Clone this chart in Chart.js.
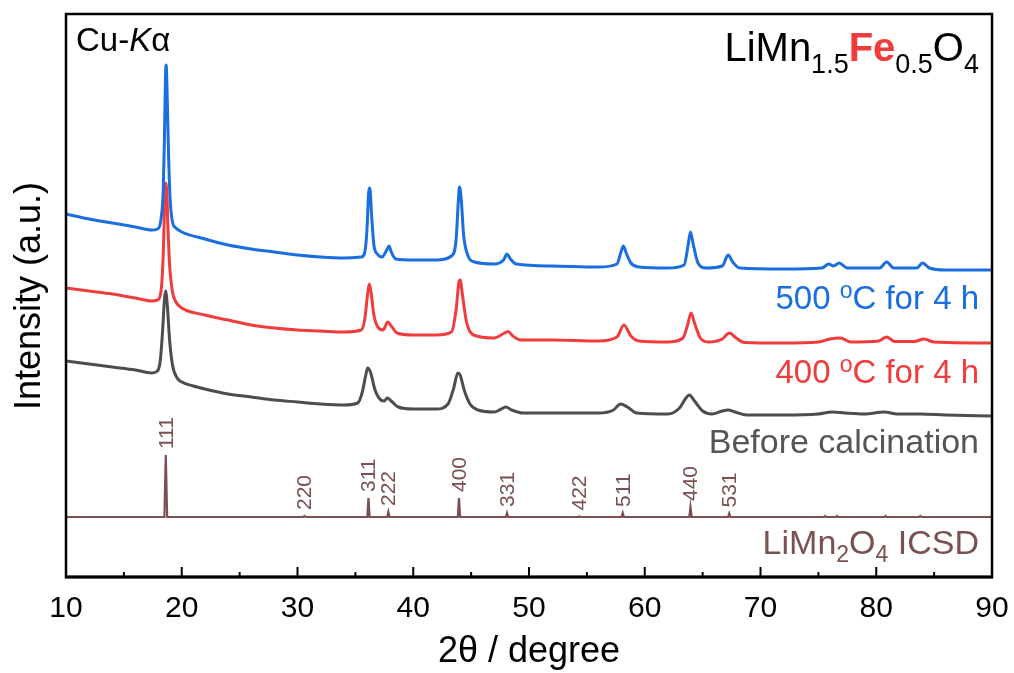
<!DOCTYPE html>
<html lang="en">
<head>
<meta charset="UTF-8">
<title>XRD LiMn1.5Fe0.5O4</title>
<script src="https://cdn.jsdelivr.net/npm/chart.js"></script>
<style>
  html, body { margin: 0; padding: 0; background: #fff; }
  canvas { display: block; }
</style>
</head>
<body>

<canvas id="xrd" width="1014" height="673"></canvas>

<script>
// [2theta, intensity (a.u., offset)]
const scan500 = [
  [10,363],[12,358],[14,354],[16,350],[17.4,347],[17.9,348],[18.2,357],[18.4,387],[18.5,437],
  [18.6,502],[18.65,512],[18.75,477],[18.85,427],[19.0,377],[19.2,355],[19.5,349],[20,345],
  [22,338],[24,332],[26,328],[28,325],[30,322],[32,320],[34,319],[35.5,320],[35.8,324],
  [36.0,347],[36.15,385],[36.25,389],[36.4,362],[36.6,332],[36.9,323],[37.3,320],[37.75,328],
  [37.9,331],[38.1,325],[38.5,318],[40,317],[42,317],[43.3,321],[43.7,337],[43.9,377],
  [44.0,390],[44.15,377],[44.35,342],[44.7,322],[45.3,315],[47,313],[47.8,317],[48.1,323],
  [48.4,318],[48.9,313],[52,311],[56,310],[57.6,313],[57.95,325],[58.15,331],[58.4,324],
  [58.8,314],[59.5,310],[62,309],[63.4,312],[63.75,332],[63.95,345],[64.2,332],[64.6,314],
  [65.3,309],[66.7,311],[67.2,322],[67.6,315],[68.2,309],[72,308],[75.3,309],[75.9,313],
  [76.3,311],[76.8,314],[77.5,309],[80.3,309],[80.9,315],[81.5,309],[83.5,309],[84.0,314],
  [84.6,309],[86,307],[90,307]
];

const scan400 = [
  [10,289],[12,286],[14,283],[16,279],[17.4,276],[17.9,277],[18.2,285],[18.4,322],[18.52,372],
  [18.62,394],[18.7,387],[18.8,352],[18.95,312],[19.2,285],[19.5,275],[20,269],[22,262],
  [24,257],[26,252],[28,249],[30,247],[32,246],[34,245],[35.5,247],[35.8,257],[36.05,282],
  [36.2,293],[36.35,285],[36.6,262],[37.0,249],[37.4,247],[37.8,255],[38.1,251],[38.6,244],
  [40,242],[42,242],[43.3,245],[43.7,267],[43.95,295],[44.05,297],[44.25,282],[44.6,255],
  [45.2,242],[47,239],[47.9,244],[48.2,245.5],[48.6,241],[49.3,237],[52,237],[56,236],
  [57.6,240],[58.2,252],[58.8,241],[59.5,236],[62,235],[63.3,239],[63.7,252],[64.0,264],
  [64.3,254],[64.8,239],[65.5,235],[66.7,238],[67.3,244],[67.9,239],[68.6,234.5],[72,234],
  [75,235],[76.0,238],[76.9,239],[77.8,235],[80.2,236],[80.9,240],[81.6,235.5],[83.3,235.5],
  [84.1,238],[85,235],[90,234]
];

const scanBefore = [
  [10,216],[12,213],[14,210],[16,207],[17.4,204],[17.9,206],[18.15,217],[18.35,247],[18.5,277],
  [18.6,286],[18.75,272],[18.95,237],[19.2,212],[19.6,199],[20,195],[21,191],[22,188],
  [24,183],[26,180],[28,177],[30,175],[32,173],[34,172],[35.2,174],[35.6,185],[35.9,202],
  [36.05,209],[36.3,205],[36.7,187],[37.2,177],[37.5,176],[37.75,179],[38.1,176],[38.7,170],
  [40,168],[42,168],[43.0,173],[43.5,189],[43.85,204],[44.05,202],[44.4,187],[44.9,173],
  [45.6,167],[47,165],[47.6,168],[48.0,170],[48.5,167],[49.5,164],[52,164],[56,164],
  [57.3,167],[57.9,173],[58.5,170],[59.3,164],[62,163],[63.0,169],[63.5,178],[63.85,182],
  [64.3,176],[65,166],[65.8,163],[66.7,166],[67.2,167],[67.8,165],[68.8,162],[72,162],
  [75,163],[76.2,165],[77.3,164],[79,163],[80.7,165],[81.8,163],[83.8,163],[86,162],[90,161]
];

const icsd = [
  [10,60],[18.5,60],[18.62,122],[18.74,60],[30.5,60],[30.6,61],[30.7,60],
  [36.03,60],[36.13,79],[36.23,60],[37.75,60],[37.85,65],[37.95,60],
  [43.85,60],[43.95,79],[44.05,60],[48.0,60],[48.1,64],[48.2,60],
  [54.25,60],[54.35,60.5],[54.45,60],[58.0,60],[58.1,64],[58.2,60],
  [63.85,60],[63.95,70],[64.05,60],[67.2,60],[67.3,63.5],[67.4,60],
  [75.5,60],[75.6,61],[75.7,60],[76.5,60],[76.6,61],[76.7,60],
  [80.7,60],[80.8,61],[80.9,60],[83.7,60],[83.8,61],[83.9,60],[90,60]
];

const hklLabels = ['111', '220', '311', '222', '400', '331', '422', '511', '440', '531'];
const hklAngles = [18.62, 30.6, 36.13, 37.85, 43.95, 48.1, 54.35, 58.1, 63.95, 67.3];

const majorTicks = [10, 20, 30, 40, 50, 60, 70, 80, 90];
const minorTicks = [15, 25, 35, 45, 55, 65, 75, 85];

const BLUE = '#1b6ee0', RED = '#f03c3c', GRAY = '#4d4d4d', BROWN = '#7a5050';
const FONT = "'Liberation Sans', Arial, sans-serif";

const toXY = arr => arr.map(p => ({ x: p[0], y: p[1] }));

// draws a run of differently styled pieces; align 'right' or 'left' at x
function richText(ctx, parts, x, baseline, align) {
  let w = 0;
  parts.forEach(p => { ctx.font = p.font; w += ctx.measureText(p.text).width; });
  let cx = align === 'left' ? x : x - w;
  parts.forEach(p => {
    ctx.font = p.font;
    ctx.fillStyle = p.color;
    ctx.fillText(p.text, cx, baseline + (p.dy || 0));
    cx += ctx.measureText(p.text).width;
  });
}

const decorations = {
  id: 'decorations',
  beforeDraw(chart) {
    const ctx = chart.ctx;
    ctx.save();
    ctx.fillStyle = '#fff';
    ctx.fillRect(0, 0, chart.width, chart.height);
    ctx.restore();
  },
  afterDraw(chart) {
    const { ctx, chartArea: a, scales: { x, y } } = chart;
    ctx.save();

    // frame
    ctx.strokeStyle = '#000';
    ctx.lineWidth = 2.5;
    ctx.strokeRect(a.left, a.top, a.right - a.left, a.bottom - a.top);
    ctx.lineWidth = 3;
    ctx.beginPath();
    ctx.moveTo(a.left - 1, a.bottom);
    ctx.lineTo(a.right + 1, a.bottom);
    ctx.stroke();

    // inward ticks on the bottom axis
    ctx.lineWidth = 2;
    ctx.beginPath();
    majorTicks.forEach(v => {
      const px = x.getPixelForValue(v);
      ctx.moveTo(px, a.bottom);
      ctx.lineTo(px, a.bottom - 10);
    });
    minorTicks.forEach(v => {
      const px = x.getPixelForValue(v);
      ctx.moveTo(px, a.bottom);
      ctx.lineTo(px, a.bottom - 5);
    });
    ctx.stroke();

    ctx.fillStyle = '#000';
    ctx.font = `30px ${FONT}`;
    ctx.textAlign = 'center';
    ctx.textBaseline = 'alphabetic';
    majorTicks.forEach(v => ctx.fillText(String(v), x.getPixelForValue(v), 617));

    // axis titles
    ctx.font = `36px ${FONT}`;
    ctx.fillText('2θ / degree', (a.left + a.right) / 2, 662);
    ctx.save();
    ctx.translate(40, 296);
    ctx.rotate(-Math.PI / 2);
    ctx.fillText('Intensity (a.u.)', 0, 0);
    ctx.restore();

    // hkl labels above the reference sticks
    ctx.fillStyle = BROWN;
    ctx.font = `21px ${FONT}`;
    ctx.textAlign = 'left';
    ctx.textBaseline = 'middle';
    hklAngles.forEach((ang, i) => {
      const top = Math.max(...icsd.filter(p => Math.abs(p[0] - ang) < 0.15).map(p => p[1]));
      ctx.save();
      ctx.translate(x.getPixelForValue(ang) + 1, y.getPixelForValue(top) - 6);
      ctx.rotate(-Math.PI / 2);
      ctx.fillText(hklLabels[i], 0, 0);
      ctx.restore();
    });

    ctx.textAlign = 'left';
    ctx.textBaseline = 'alphabetic';

    // Cu-Ka
    richText(ctx, [
      { text: 'Cu-', font: `33px ${FONT}`, color: '#000' },
      { text: 'K', font: `italic 33px ${FONT}`, color: '#000' },
      { text: 'α', font: `33px ${FONT}`, color: '#000' }
    ], 76, 51, 'left');

    // formula
    const big = `40px ${FONT}`, sub = `27px ${FONT}`;
    richText(ctx, [
      { text: 'LiMn', font: big, color: '#000' },
      { text: '1.5', font: sub, color: '#000', dy: 12 },
      { text: 'Fe', font: `bold 40px ${FONT}`, color: RED },
      { text: '0.5', font: sub, color: '#000', dy: 12 },
      { text: 'O', font: big, color: '#000' },
      { text: '4', font: sub, color: '#000', dy: 12 }
    ], 979, 61);

    // series labels
    const lab = `33px ${FONT}`, sup = `23px ${FONT}`;
    richText(ctx, [
      { text: '500 ', font: lab, color: BLUE },
      { text: 'o', font: sup, color: BLUE, dy: -11 },
      { text: 'C for 4 h', font: lab, color: BLUE }
    ], 979, 309);
    richText(ctx, [
      { text: '400 ', font: lab, color: RED },
      { text: 'o', font: sup, color: RED, dy: -11 },
      { text: 'C for 4 h', font: lab, color: RED }
    ], 979, 383);
    richText(ctx, [
      { text: 'Before calcination', font: `34px ${FONT}`, color: '#555' }
    ], 979, 453);
    richText(ctx, [
      { text: 'LiMn', font: `34px ${FONT}`, color: BROWN },
      { text: '2', font: sup, color: BROWN, dy: 8 },
      { text: 'O', font: `34px ${FONT}`, color: BROWN },
      { text: '4', font: sup, color: BROWN, dy: 8 },
      { text: ' ICSD', font: `34px ${FONT}`, color: BROWN }
    ], 979, 554);

    ctx.restore();
  }
};

const lineSet = (label, data, color, width) => ({
  label: label,
  data: toXY(data),
  borderColor: color,
  borderWidth: width,
  pointRadius: 0,
  fill: false,
  cubicInterpolationMode: 'monotone'
});

new Chart(document.getElementById('xrd'), {
  type: 'line',
  data: {
    datasets: [
      lineSet('500 °C for 4 h', scan500, BLUE, 3),
      lineSet('400 °C for 4 h', scan400, RED, 3),
      lineSet('Before calcination', scanBefore, GRAY, 3),
      Object.assign(lineSet('LiMn2O4 ICSD', icsd, BROWN, 2.2), { cubicInterpolationMode: 'default', tension: 0 })
    ]
  },
  options: {
    responsive: false,
    animation: false,
    devicePixelRatio: 1,
    layout: { padding: { left: 66, top: 14, right: 22, bottom: 96 } },
    plugins: { legend: { display: false }, tooltip: { enabled: false } },
    scales: {
      x: { type: 'linear', min: 10, max: 90, display: false },
      y: { type: 'linear', min: 0, max: 563, display: false }
    }
  },
  plugins: [decorations]
});
</script>

</body>
</html>
